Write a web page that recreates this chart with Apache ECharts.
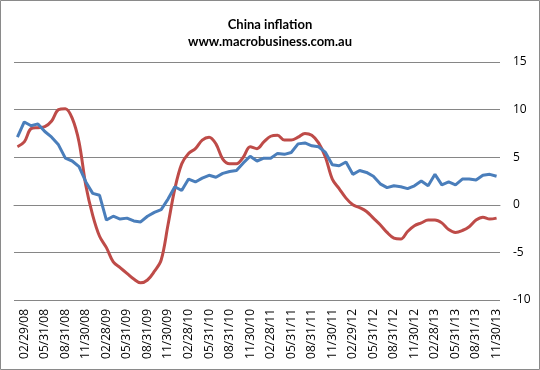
<!DOCTYPE html>
<html>
<head>
<meta charset="utf-8">
<script src="https://cdn.jsdelivr.net/npm/echarts@6/dist/echarts.min.js"></script>
<style>
html,body{margin:0;padding:0;background:#fff;}
#chart{width:540px;height:370px;}
</style>
</head>
<body>
<div id="chart"></div>
<script>
// Month-end dates, Jan 2008 - Nov 2013
var categories = [
 "01/31/08","02/29/08","03/31/08","04/30/08","05/31/08","06/30/08","07/31/08","08/31/08","09/30/08","10/31/08","11/30/08","12/31/08",
 "01/31/09","02/28/09","03/31/09","04/30/09","05/31/09","06/30/09","07/31/09","08/31/09","09/30/09","10/31/09","11/30/09","12/31/09",
 "01/31/10","02/28/10","03/31/10","04/30/10","05/31/10","06/30/10","07/31/10","08/31/10","09/30/10","10/31/10","11/30/10","12/31/10",
 "01/31/11","02/28/11","03/31/11","04/30/11","05/31/11","06/30/11","07/31/11","08/31/11","09/30/11","10/31/11","11/30/11","12/31/11",
 "01/31/12","02/29/12","03/31/12","04/30/12","05/31/12","06/30/12","07/31/12","08/31/12","09/30/12","10/31/12","11/30/12","12/31/12",
 "01/31/13","02/28/13","03/31/13","04/30/13","05/31/13","06/30/13","07/31/13","08/31/13","09/30/13","10/31/13","11/30/13"
];
// Consumer prices, % y/y (blue)
var cpi = [
 7.1,8.7,8.3,8.5,7.7,7.1,6.3,4.9,4.6,4.0,2.4,1.2,
 1.0,-1.6,-1.2,-1.5,-1.4,-1.7,-1.8,-1.2,-0.8,-0.5,0.6,1.9,
 1.5,2.7,2.4,2.8,3.1,2.9,3.3,3.5,3.6,4.4,5.1,4.6,
 4.9,4.9,5.4,5.3,5.5,6.4,6.5,6.2,6.1,5.5,4.2,4.1,
 4.5,3.2,3.6,3.4,3.0,2.2,1.8,2.0,1.9,1.7,2.0,2.5,
 2.0,3.2,2.1,2.4,2.1,2.7,2.7,2.6,3.1,3.2,3.0
];
// Producer prices, % y/y (red)
var ppi = [
 6.1,6.6,8.0,8.1,8.2,8.8,10.0,10.1,9.1,6.6,2.0,-1.1,
 -3.3,-4.5,-6.0,-6.6,-7.2,-7.8,-8.2,-7.9,-7.0,-5.8,-2.1,1.7,
 4.3,5.4,5.9,6.8,7.1,6.4,4.8,4.3,4.3,5.0,6.1,5.9,
 6.6,7.2,7.3,6.8,6.8,7.1,7.5,7.3,6.5,5.0,2.7,1.7,
 0.7,0.0,-0.3,-0.7,-1.4,-2.1,-2.9,-3.5,-3.6,-2.8,-2.2,-1.9,
 -1.6,-1.6,-1.9,-2.6,-2.9,-2.7,-2.3,-1.6,-1.3,-1.5,-1.4
];
var yTicks = { min: -10, max: 15, step: 5 };

var chart = echarts.init(document.getElementById('chart'), null, {renderer:'canvas'});
chart.setOption({
  animation: false,
  backgroundColor: '#fff',
  title: {
    left: 'center',
    top: 13,
    text: 'China inflation',
    subtext: 'www.macrobusiness.com.au',
    itemGap: 4,
    textStyle: { fontFamily: 'Lato', fontWeight: 'bold', fontSize: 13, color: '#000' },
    subtextStyle: { fontFamily: 'Lato', fontWeight: 'bold', fontSize: 13, color: '#000' }
  },
  graphic: [{
    type: 'rect',
    shape: { x: 0.5, y: 0.5, width: 539, height: 369 },
    style: { fill: null, stroke: '#8a8a8a', lineWidth: 1 },
    silent: true
  }],
  grid: { left: 14, right: 40, top: 62, bottom: 70 },
  xAxis: {
    type: 'category',
    data: categories,
    boundaryGap: true,
    axisLine: { show: true, lineStyle: { color: '#868686', width: 1 } },
    axisTick: { show: false },
    axisLabel: {
      interval: function (idx) { return idx % 3 === 1; },
      rotate: 90,
      margin: 9,
      fontFamily: 'Open Sans',
      fontSize: 12,
      color: '#000'
    },
    splitLine: { show: false }
  },
  yAxis: {
    type: 'value',
    position: 'right',
    min: yTicks.min,
    max: yTicks.max,
    interval: yTicks.step,
    axisLine: { show: false },
    axisTick: { show: false },
    axisLabel: { margin: 13, fontFamily: 'Open Sans', fontSize: 12, color: '#000' },
    splitLine: { show: true, lineStyle: { color: '#868686', width: 1 } }
  },
  series: [
    {
      type: 'line', name: 'CPI', data: cpi, showSymbol: false, symbol: 'none',
      lineStyle: { color: '#4A7EBB', width: 3 }, itemStyle: { color: '#4A7EBB' }, z: 3
    },
    {
      type: 'line', name: 'PPI', data: ppi, showSymbol: false, symbol: 'none', smooth: 0.35,
      lineStyle: { color: '#BE4B48', width: 3 }, itemStyle: { color: '#BE4B48' }, z: 2
    }
  ]
});
</script>
</body>
</html>
